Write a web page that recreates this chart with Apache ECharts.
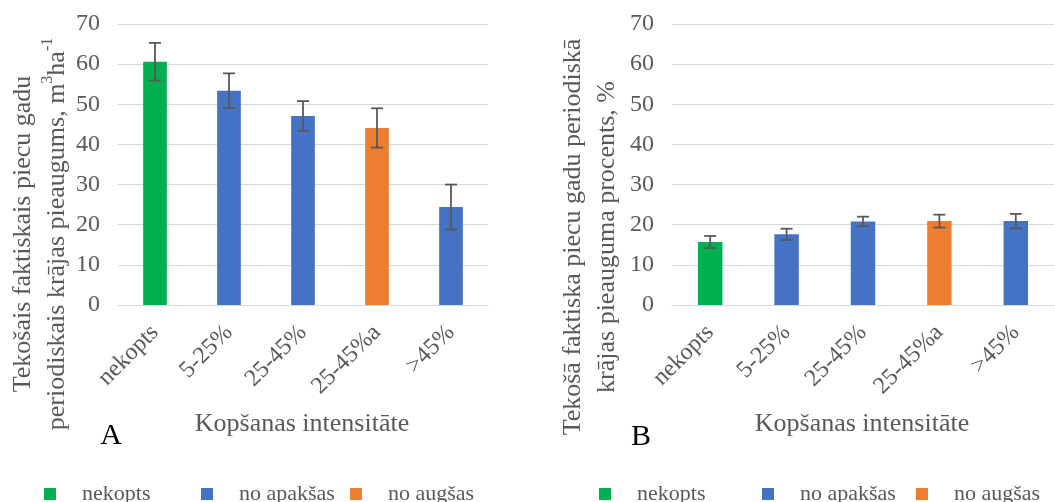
<!DOCTYPE html>
<html>
<head>
<meta charset="utf-8">
<script src="https://cdn.jsdelivr.net/npm/echarts@6/dist/echarts.min.js"></script>
<style>
html,body{margin:0;padding:0;background:#fff;}
#chart{width:1055px;height:502px;}
</style>
</head>
<body>
<div id="chart"></div>
<script>
// ---- data ----
const categories = ['nekopts', '5-25%', '25-45%', '25-45%a', '>45%'];
const categoryGroup = ['nekopts', 'no apakšas', 'no apakšas', 'no augšas', 'no apakšas'];
const groupNames = ['nekopts', 'no apakšas', 'no augšas'];
const groupColors = ['#00B050', '#4472C4', '#ED7D31'];
const valuesA = [60.6, 53.4, 47.1, 44.1, 24.4];
const errorsA = [4.7, 4.3, 3.7, 4.9, 5.6];
const valuesB = [15.7, 17.6, 20.8, 20.9, 20.9];
const errorsB = [1.5, 1.4, 1.2, 1.6, 1.8];
const yTicks = [0, 10, 20, 30, 40, 50, 60, 70];

const FONT = "'Liberation Serif','Times New Roman',serif";
const GRAY = '#595959';

function barSeries(values, axisIdx) {
  return groupNames.map((g, gi) => ({
    type: 'bar',
    name: g,
    xAxisIndex: axisIdx,
    yAxisIndex: axisIdx,
    stack: 'p' + axisIdx,
    barWidth: '32%',
    itemStyle: { color: groupColors[gi] },
    data: values.map((v, i) => categoryGroup[i] === g ? v : '-')
  }));
}

function errSeries(values, errors, axisIdx) {
  return {
    type: 'custom',
    xAxisIndex: axisIdx,
    yAxisIndex: axisIdx,
    z: 5,
    silent: true,
    data: values.map((v, i) => [i, v - errors[i], v + errors[i]]),
    renderItem: function (params, api) {
      const lo = api.coord([api.value(0), api.value(1)]);
      const hi = api.coord([api.value(0), api.value(2)]);
      const hw = 6;
      const st = { stroke: GRAY, lineWidth: 1.8 };
      return {
        type: 'group',
        children: [
          { type: 'line', shape: { x1: lo[0], y1: lo[1], x2: hi[0], y2: hi[1] }, style: st },
          { type: 'line', shape: { x1: lo[0] - hw, y1: lo[1], x2: lo[0] + hw, y2: lo[1] }, style: st },
          { type: 'line', shape: { x1: hi[0] - hw, y1: hi[1], x2: hi[0] + hw, y2: hi[1] }, style: st }
        ]
      };
    }
  };
}

function xAxisCfg(idx) {
  return {
    type: 'category',
    gridIndex: idx,
    data: categories,
    axisLine: { lineStyle: { color: '#D9D9D9', width: 1 } },
    axisTick: { show: false },
    axisLabel: { rotate: 45, margin: 24, fontSize: 24, color: GRAY, fontFamily: FONT, interval: 0 }
  };
}
function yAxisCfg(idx) {
  return {
    type: 'value',
    gridIndex: idx,
    min: yTicks[0],
    max: yTicks[yTicks.length - 1],
    interval: yTicks[1] - yTicks[0],
    axisLine: { show: false },
    axisTick: { show: false },
    splitLine: { lineStyle: { color: '#D9D9D9', width: 1 } },
    axisLabel: { margin: 18, fontSize: 24, color: GRAY, fontFamily: FONT }
  };
}

function legendCfg(left, widths) {
  const rich = {};
  widths.forEach((w, i) => {
    rich['w' + i] = { width: w, padding: [0, 0, 0, 21], fontSize: 22, lineHeight: 24, color: GRAY, fontFamily: FONT };
  });
  return {
    left: left,
    top: 483,
    padding: 0,
    icon: 'rect',
    itemWidth: 12,
    itemHeight: 12,
    itemGap: 0,
    selectedMode: false,
    formatter: function (name) { return '{w' + groupNames.indexOf(name) + '|' + name + '}'; },
    textStyle: { fontSize: 22, color: GRAY, fontFamily: FONT, rich: rich },
    data: groupNames
  };
}

function txt(x, y, text, size, color) {
  return {
    type: 'text',
    x: x, y: y,
    style: { text: text, font: size + 'px ' + FONT, fill: color, align: 'center', verticalAlign: 'middle' }
  };
}

const option = {
  animation: false,
  backgroundColor: '#fff',
  grid: [
    { left: 118, top: 24, width: 370, height: 281 },
    { left: 672, top: 24, width: 382, height: 281 }
  ],
  xAxis: [xAxisCfg(0), xAxisCfg(1)],
  yAxis: [yAxisCfg(0), yAxisCfg(1)],
  legend: [legendCfg(44, [119, 111, 90]), legendCfg(599, [125, 116, 90])],
  series: [].concat(barSeries(valuesA, 0), [errSeries(valuesA, errorsA, 0)],
                    barSeries(valuesB, 1), [errSeries(valuesB, errorsB, 1)]),
  graphic: [
    {
      type: 'text', x: 40, y: 234, rotation: Math.PI / 2,
      style: {
        text: 'Tekošais faktiskais piecu gadu\nperiodiskais krājas pieaugums, m{sup|3}ha{sup|-1}',
        font: '26px ' + FONT, fill: GRAY, align: 'center', verticalAlign: 'middle', lineHeight: 34,
        rich: { sup: { fontSize: 16, fontFamily: FONT, fill: GRAY, verticalAlign: 'top', lineHeight: 34 } }
      }
    },
    {
      type: 'text', x: 590, y: 237, rotation: Math.PI / 2,
      style: {
        text: 'Tekošā faktiska piecu gadu periodiskā\nkrājas pieauguma procents, %',
        font: '26px ' + FONT, fill: GRAY, align: 'center', verticalAlign: 'middle', lineHeight: 34
      }
    },
    txt(302, 424, 'Kopšanas intensitāte', 26, GRAY),
    txt(862, 424, 'Kopšanas intensitāte', 26, GRAY),
    txt(111, 436, 'A', 30, '#000'),
    txt(641, 437, 'B', 30, '#000')
  ]
};

const chart = echarts.init(document.getElementById('chart'), null, { renderer: 'canvas' });
chart.setOption(option);
</script>
</body>
</html>
